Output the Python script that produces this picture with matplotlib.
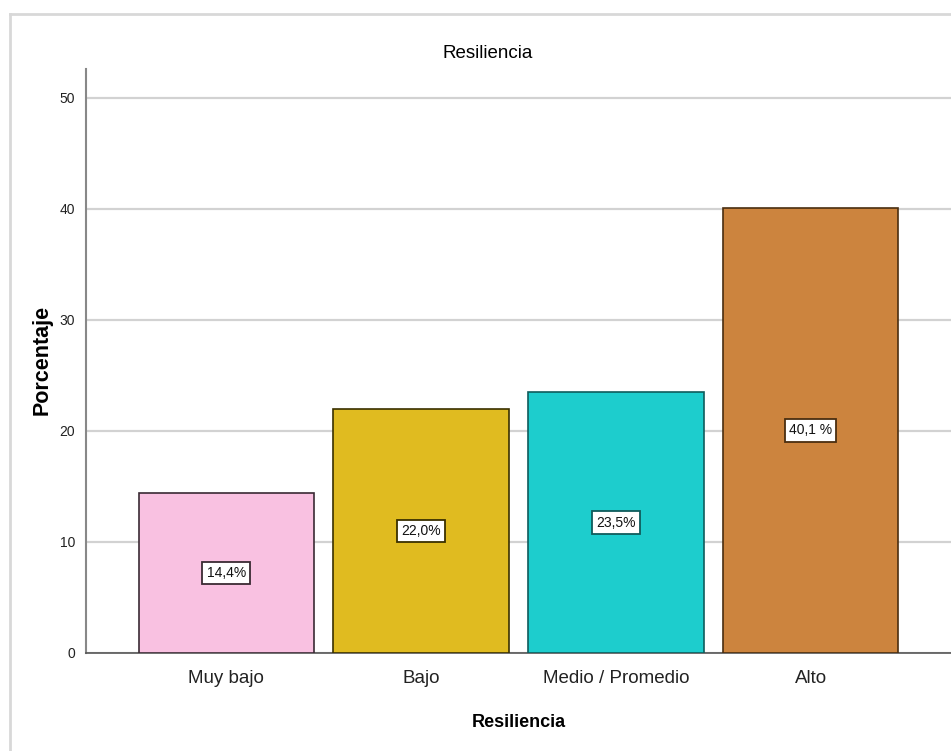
import matplotlib
matplotlib.use("Agg")
import matplotlib.pyplot as plt
from matplotlib.lines import Line2D

categories = ["Muy bajo", "Bajo", "Medio / Promedio", "Alto"]
values = [14.4, 22.0, 23.5, 40.1]
labels = ["14,4%", "22,0%", "23,5%", "40,1 %"]
yticks = [0, 10, 20, 30, 40, 50]

colors = ["#F9C1E1", "#E0BB20", "#1DCDCD", "#CC843E"]
edges = ["#3a2a33", "#3a3000", "#0f5c5c", "#4a2e10"]

sans = ["Liberation Sans", "DejaVu Sans"]

fig = plt.figure(figsize=(9.51, 7.51), dpi=100)
fig.patch.set_facecolor("white")
ax = fig.add_axes([86/951, 1-653/751, 1-86/951, (653-69)/751])

x = list(range(len(categories)))
ax.set_axisbelow(True)
ax.yaxis.grid(True, color="#d2d2d2", linewidth=1.6)
bars = ax.bar(x, values, width=0.9, color=colors, edgecolor=edges, linewidth=1.2, zorder=3)
for xi, v, lab, ec in zip(x, values, labels, edges):
    ax.text(xi, v/2, lab, ha="center", va="center", fontsize=10, family=sans,
            color="#111111", zorder=4,
            bbox=dict(boxstyle="square,pad=0.3", fc="white", ec=ec, lw=1.3))

ax.set_xlim(-0.72, 3.72)
ax.set_ylim(0, 52.6)
ax.set_yticks(yticks)
ax.set_yticklabels([str(t) for t in yticks], family=sans, fontsize=10, color="#222222")
ax.set_xticks(x)
ax.set_xticklabels(categories, family=sans, fontsize=13.5, color="#222222")
ax.tick_params(axis="y", length=0, pad=8)
ax.tick_params(axis="x", length=0, pad=12)
for s in ["top", "right"]:
    ax.spines[s].set_visible(False)
ax.spines["left"].set_color("#888888")
ax.spines["left"].set_linewidth(1.5)
ax.spines["bottom"].set_color("#555555")
ax.spines["bottom"].set_linewidth(1.2)

ax.set_xlabel("Resiliencia", family=sans, fontsize=13, fontweight="bold", labelpad=20)
fig.text(42/951, 1-360/751, "Porcentaje", rotation=90, ha="center", va="center",
         family=sans, fontsize=15.5, fontweight="bold")
fig.text(488/951, 1-53/751, "Resiliencia", ha="center", va="center",
         family=sans, fontsize=13.5)

# outer frame
fig.add_artist(Line2D([10/951, 10/951], [0, 1-14/751], transform=fig.transFigure,
                      color="#d8d8d8", lw=2))
fig.add_artist(Line2D([10/951, 1], [1-14/751, 1-14/751], transform=fig.transFigure,
                      color="#d8d8d8", lw=2))

fig.savefig("out.png", dpi=100)
